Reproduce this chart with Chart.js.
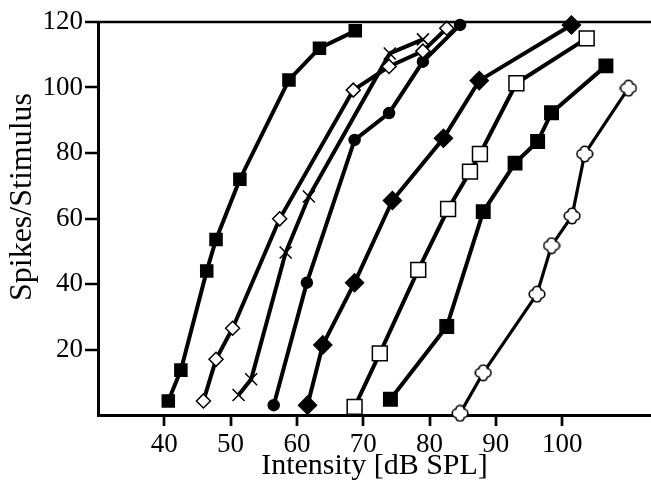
<!DOCTYPE html>
<html>
<head>
<meta charset="utf-8">
<script src="https://cdn.jsdelivr.net/npm/chart.js@4/dist/chart.umd.min.js"></script>
<style>
  html, body { margin: 0; padding: 0; background: #fff; }
</style>
</head>
<body>
<canvas id="chart" width="651" height="488"></canvas>
<script>
// axis ticks
const xTicks = [40, 50, 60, 70, 80, 90, 100];
const yTicks = [20, 40, 60, 80, 100, 120];

// series (intensity dB SPL / spikes per stimulus)
const smallSquareX = [40.6, 42.5, 46.4, 47.8, 51.4, 58.8, 63.4, 68.8];
const smallSquareY = [4.3, 13.7, 44.0, 53.6, 72.0, 102.3, 112.0, 117.3];

const openDiamondX = [45.9, 47.8, 50.3, 57.4, 68.5, 73.9, 79.0, 82.6];
const openDiamondY = [4.3, 17.0, 26.5, 59.9, 99.2, 106.4, 111.1, 118.1];

const crossX = [51.2, 53.1, 58.3, 61.8, 74.0, 79.0];
const crossY = [6.1, 10.9, 49.6, 66.7, 110.4, 114.7];

const circleX = [56.5, 61.5, 68.7, 73.9, 79.0, 84.6];
const circleY = [3.0, 40.4, 84.0, 92.2, 107.9, 119.1];

const bigDiamondX = [61.6, 63.9, 68.7, 74.4, 82.1, 87.5, 101.4];
const bigDiamondY = [3.0, 21.4, 40.4, 65.5, 84.5, 102.1, 119.1];

const openSquareX = [68.7, 72.5, 78.3, 82.8, 86.1, 87.6, 93.1, 103.7];
const openSquareY = [2.5, 18.8, 44.3, 62.9, 74.3, 79.7, 101.3, 115.0];

const bigSquareX = [74.1, 82.6, 88.1, 92.9, 96.3, 98.4, 106.6];
const bigSquareY = [4.8, 27.0, 62.1, 76.9, 83.5, 92.3, 106.6];

const cloverX = [84.6, 88.1, 96.2, 98.4, 101.5, 103.4, 110.0];
const cloverY = [0.5, 12.9, 36.9, 51.7, 60.8, 79.7, 99.8];

const FONT = "'Liberation Serif', 'Times New Roman', serif";

function pairs(xs, ys) {
    return xs.map((x, i) => ({ x: x, y: ys[i] }));
}

// open four-lobed marker
function makeClover(size) {
    const c = document.createElement('canvas');
    c.width = c.height = size;
    const g = c.getContext('2d');
    const m = size / 2, r = size * 0.19, d = size * 0.2;
    const lobes = [[d, 0], [-d, 0], [0, d], [0, -d]];
    g.fillStyle = '#000';
    lobes.forEach(([dx, dy]) => { g.beginPath(); g.arc(m + dx, m + dy, r + 1.6, 0, 2 * Math.PI); g.fill(); });
    g.fillStyle = '#fff';
    lobes.forEach(([dx, dy]) => { g.beginPath(); g.arc(m + dx, m + dy, r, 0, 2 * Math.PI); g.fill(); });
    g.fillRect(m - d, m - d, 2 * d, 2 * d);
    return c;
}

function series(xs, ys, style, radius, fill, opts) {
    return Object.assign({
        data: pairs(xs, ys),
        borderColor: '#000',
        borderWidth: 4,
        tension: 0,
        pointStyle: style,
        pointRadius: radius,
        pointHoverRadius: radius,
        pointBackgroundColor: fill,
        pointBorderColor: '#000',
        pointBorderWidth: 1.5,
        clip: 20
    }, opts || {});
}

// top frame line, outward tick marks, and the y title (sits above the axis centre in the original)
const frame = {
    id: 'frame',
    afterDraw(chart) {
        const { ctx, chartArea: a, scales } = chart;
        ctx.save();
        ctx.strokeStyle = '#000';
        ctx.lineWidth = 2.5;
        ctx.beginPath();
        ctx.moveTo(a.left - 1.5, a.top);
        ctx.lineTo(a.right, a.top);
        ctx.stroke();

        ctx.lineWidth = 2.7;
        ctx.beginPath();
        xTicks.forEach(v => {
            const px = Math.round(scales.x.getPixelForValue(v));
            ctx.moveTo(px, a.bottom + 1);
            ctx.lineTo(px, a.bottom + 11);
        });
        yTicks.forEach(v => {
            const py = Math.round(scales.y.getPixelForValue(v));
            ctx.moveTo(a.left - 1, py);
            ctx.lineTo(a.left - 13, py);
        });
        ctx.stroke();

        ctx.translate(23, 197);
        ctx.rotate(-Math.PI / 2);
        ctx.fillStyle = '#000';
        ctx.font = '32px ' + FONT;
        ctx.textAlign = 'center';
        ctx.textBaseline = 'middle';
        ctx.fillText('Spikes/Stimulus', 0, 0);
        ctx.restore();
    }
};

new Chart(document.getElementById('chart'), {
    type: 'line',
    data: {
        datasets: [
            series(smallSquareX, smallSquareY, 'rect', 8.5, '#000'),
            series(openDiamondX, openDiamondY, 'rectRot', 7, '#fff'),
            series(crossX, crossY, 'crossRot', 8.5, '#000'),
            series(circleX, circleY, 'circle', 5.5, '#000'),
            series(bigDiamondX, bigDiamondY, 'rectRot', 9, '#000'),
            series(openSquareX, openSquareY, 'rect', 10.5, '#fff'),
            series(bigSquareX, bigSquareY, 'rect', 9.5, '#000'),
            series(cloverX, cloverY, makeClover(18), 9, '#fff', { borderWidth: 3.2 })
        ]
    },
    options: {
        responsive: false,
        animation: false,
        devicePixelRatio: 1,
        layout: { autoPadding: false, padding: { top: 22, right: 0, left: 0, bottom: 0 } },
        plugins: { legend: { display: false }, tooltip: { enabled: false } },
        scales: {
            x: {
                type: 'linear',
                min: 30,
                max: 113.4,
                afterBuildTicks: s => { s.ticks = xTicks.map(v => ({ value: v })); },
                afterFit: s => { s.height = 73; },
                border: { display: true, color: '#000', width: 3 },
                grid: { display: false, drawTicks: true, tickLength: 10 },
                ticks: { color: '#000', padding: 4, maxRotation: 0, font: { family: FONT, size: 27 } },
                title: { display: true, text: 'Intensity [dB SPL]', color: '#000', padding: { top: 0, bottom: 4 }, font: { family: FONT, size: 30 } }
            },
            y: {
                type: 'linear',
                min: 0,
                max: 120,
                afterBuildTicks: s => { s.ticks = yTicks.map(v => ({ value: v })); },
                afterFit: s => { s.width = 98; },
                border: { display: true, color: '#000', width: 3 },
                grid: { display: false, drawTicks: true, tickLength: 12 },
                ticks: { color: '#000', padding: 3, font: { family: FONT, size: 27 } }
            }
        }
    },
    plugins: [frame]
});
</script>
</body>
</html>
